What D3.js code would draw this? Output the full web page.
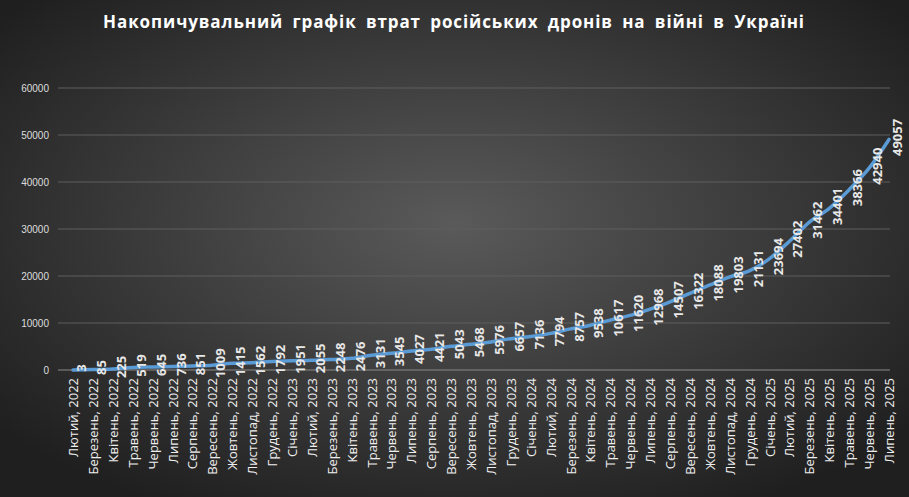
<!DOCTYPE html>
<html><head><meta charset="utf-8">
<script src="https://cdn.jsdelivr.net/npm/d3@7"></script>
<style>body{margin:0;background:#222}</style>
</head><body><div id="chart"></div>
<script>
const months = ["Лютий, 2022","Березень, 2022","Квітень, 2022","Травень, 2022","Червень, 2022","Липень, 2022","Серпень, 2022","Вересень, 2022","Жовтень, 2022","Листопад, 2022","Грудень, 2022","Січень, 2023","Лютий, 2023","Березень, 2023","Квітень, 2023","Травень, 2023","Червень, 2023","Липень, 2023","Серпень, 2023","Вересень, 2023","Жовтень, 2023","Листопад, 2023","Грудень, 2023","Січень, 2024","Лютий, 2024","Березень, 2024","Квітень, 2024","Травень, 2024","Червень, 2024","Липень, 2024","Серпень, 2024","Вересень, 2024","Жовтень, 2024","Листопад, 2024","Грудень, 2024","Січень, 2025","Лютий, 2025","Березень, 2025","Квітень, 2025","Травень, 2025","Червень, 2025","Липень, 2025"];
const losses = [3,85,225,519,645,736,851,1009,1415,1562,1792,1951,2055,2248,2476,3131,3545,4027,4421,5043,5468,5976,6657,7136,7794,8757,9538,10617,11620,12968,14507,16322,18088,19803,21131,23694,27402,31462,34401,38366,42940,49057];
const yTicks = [0,10000,20000,30000,40000,50000,60000];

const width = 909, height = 497;
const svg = d3.select("#chart").append("svg").attr("width", width).attr("height", height);

const defs = svg.append("defs");
const grad = defs.append("radialGradient").attr("id", "bg").attr("cx", "50%").attr("cy", "45%").attr("r", "65%");
grad.append("stop").attr("offset", "0%").attr("stop-color", "#5a5a5a");
grad.append("stop").attr("offset", "100%").attr("stop-color", "#1f1f1f");
svg.append("rect").attr("width", width).attr("height", height).attr("fill", "url(#bg)");

svg.append("text").attr("x", 454).attr("y", 28).attr("text-anchor", "middle")
  .attr("fill", "#fff").style("font", "bold 17px 'Open Sans', sans-serif").style("letter-spacing", "0.9px")
  .style("word-spacing", "4px")
  .text("Накопичувальний графік втрат російських дронів на війні в Україні");

const x = d3.scalePoint().domain(months).range([73, 889]);
const y = d3.scaleLinear().domain([0, 60000]).range([370, 88]);

// сітка
svg.append("g").selectAll("line").data(yTicks).enter().append("line")
  .attr("x1", 58).attr("x2", 890).attr("y1", d => y(d)).attr("y2", d => y(d))
  .attr("stroke", d => d === 0 ? "#8a8a8a" : "#5e5e5e").attr("stroke-width", 1);

svg.append("g").selectAll("text").data(yTicks).enter().append("text")
  .attr("x", 49).attr("y", d => y(d) + 4).attr("text-anchor", "end")
  .attr("fill", "#ddd").style("font", "10px 'Liberation Sans', sans-serif").text(d => d);

// підписи місяців
svg.append("g").selectAll("text").data(months).enter().append("text")
  .attr("transform", d => `translate(${x(d) + 5},378) rotate(-90)`)
  .attr("text-anchor", "end").attr("fill", "#eee")
  .style("font", "13px 'Open Sans', sans-serif").text(d => d);

const line = d3.line().x((d, i) => x(months[i])).y(d => y(d)).curve(d3.curveMonotoneX);
svg.append("path").datum(losses).attr("d", line)
  .attr("fill", "none").attr("stroke", "#5b9bd5").attr("stroke-width", 3.5).attr("stroke-linecap", "round");

svg.append("g").selectAll("text").data(losses).enter().append("text")
  .attr("transform", (d, i) => `translate(${x(months[i]) + 13},${y(d) - 2}) rotate(-90)`)
  .attr("text-anchor", "middle").attr("fill", "#e8e8e8")
  .style("font", "bold 13px 'Open Sans', sans-serif").text(d => d);
</script></body></html>
